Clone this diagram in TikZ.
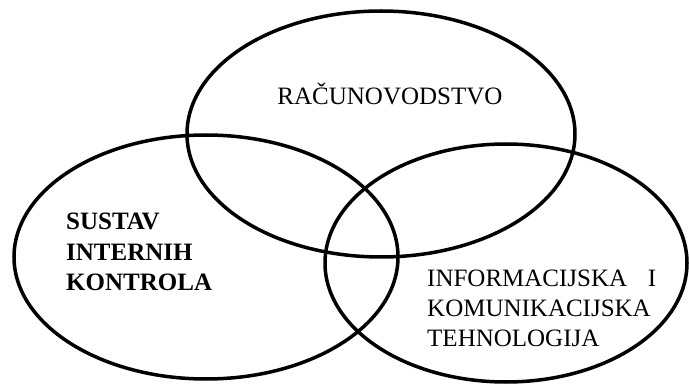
\documentclass[tikz,border=0pt]{standalone}
\usepackage{fontspec}
\setmainfont{Liberation Serif}
\begin{document}
\begin{tikzpicture}[
  x=1pt, y=-1pt,
  krug/.style={line width=3.5pt},
  oznaka/.style={inner sep=0pt, font=\fontsize{25}{30}\selectfont, align=left}
]
  \useasboundingbox (0,0) rectangle (689,385);

  % Krugovi
  \draw[krug] (381,134) ellipse [x radius=194, y radius=123];
  \draw[krug] (206,257) ellipse [x radius=192, y radius=122];
  \draw[krug] (506,263) ellipse [x radius=181, y radius=119];

  % Racunovodstvo
  \node[oznaka, anchor=base] (racun) at (390,105) {RAČUNOVODSTVO};

  % Sustav internih kontrola
  \node[oznaka, anchor=north west, font=\fontsize{25}{30.5}\selectfont\bfseries] (sustav) at (66,213) {SUSTAV\\INTERNIH\\KONTROLA};

  % IKT
  \node[oznaka, anchor=north west, text width=229pt] (ikt) at (427,270) {INFORMACIJSKA\hfill I\\KOMUNIKACIJSKA\\TEHNOLOGIJA};
\end{tikzpicture}
\end{document}
